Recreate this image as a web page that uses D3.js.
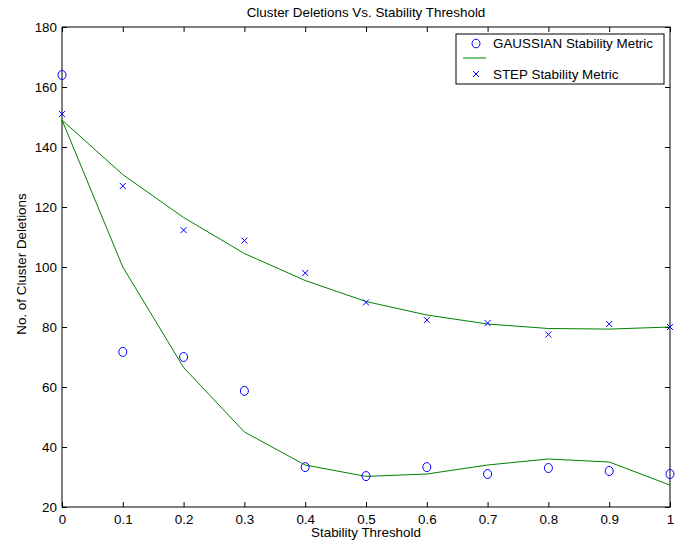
<!DOCTYPE html>
<html lang="en">
<meta charset="utf-8">
<title>Cluster Deletions Vs. Stability Threshold</title>
<style>
	body { margin: 0; background: #fff; font-family: "Liberation Sans", Arial, sans-serif; }
	.axis text { font-size: 13.4px; fill: #000; font-family: "Liberation Sans", Arial, sans-serif; }
	.axis path { display: none; }
	.axis line { stroke: #000; }
	.label { font-size: 13.4px; fill: #000; }
</style>
<body>
<script src="https://cdn.jsdelivr.net/npm/d3@7"></script>
<svg class="chart"></svg>
<script>
	// data
	var thresholds = [0, 0.1, 0.2, 0.3, 0.4, 0.5, 0.6, 0.7, 0.8, 0.9, 1.0];
	var gaussianPts = [164, 71.7, 70, 58.7, 33.3, 30.3, 33.3, 31, 33, 32, 31];
	var gaussianFit = [149, 100, 66.5, 45, 34, 30.2, 31, 34, 36, 35, 27.3];
	var stepPts = [151, 127, 112.3, 108.8, 98, 88.2, 82.3, 81.3, 77.5, 81, 80];
	var stepFit = [149, 130.8, 116.5, 104.5, 95.5, 88.5, 84, 81, 79.5, 79.3, 80];
	var xTicks = [0, 0.1, 0.2, 0.3, 0.4, 0.5, 0.6, 0.7, 0.8, 0.9, 1];
	var yTicks = [20, 40, 60, 80, 100, 120, 140, 160, 180];

	var margin = {top: 27, right: 11, bottom: 35, left: 62},
	    width = 681 - margin.left - margin.right,
	    height = 542 - margin.top - margin.bottom;

	var svg = d3.select(".chart")
	    .attr("width", 681)
	    .attr("height", 542)
	  .append("g")
	    .attr("transform", "translate(" + margin.left + "," + margin.top + ")");

	var x = d3.scaleLinear().domain([0, 1]).range([0, width]);
	var y = d3.scaleLinear().domain([20, 180]).range([height, 0]);

	var fmt = function(d) { return d === 0 ? "0" : d === 1 ? "1" : d3.format(".1f")(d); };

	// ticks, inward on all four sides
	svg.append("g").attr("class", "axis")
	    .attr("transform", "translate(0," + height + ")")
	    .call(d3.axisBottom(x).tickValues(xTicks).tickFormat(fmt).tickSizeInner(-5).tickPadding(7));
	svg.append("g").attr("class", "axis")
	    .call(d3.axisTop(x).tickValues(xTicks).tickFormat("").tickSizeInner(-5));
	svg.append("g").attr("class", "axis")
	    .call(d3.axisLeft(y).tickValues(yTicks).tickSizeInner(-5).tickPadding(5));
	svg.append("g").attr("class", "axis")
	    .attr("transform", "translate(" + width + ",0)")
	    .call(d3.axisRight(y).tickValues(yTicks).tickFormat("").tickSizeInner(-5));

	svg.append("rect")
	    .attr("width", width).attr("height", height)
	    .attr("fill", "none").attr("stroke", "#000").attr("stroke-width", 1);

	var line = d3.line()
	    .x(function(d, i) { return x(thresholds[i]); })
	    .y(function(d) { return y(d); });

	[gaussianFit, stepFit].forEach(function(s) {
		svg.append("path").datum(s)
		    .attr("fill", "none").attr("stroke", "#008000").attr("stroke-width", 1)
		    .attr("d", line);
	});

	svg.selectAll(".gpt").data(gaussianPts).enter().append("ellipse")
	    .attr("class", "gpt")
	    .attr("cx", function(d, i) { return x(thresholds[i]); })
	    .attr("cy", function(d) { return y(d); })
	    .attr("rx", 4).attr("ry", 4.5)
	    .attr("fill", "none").attr("stroke", "#0000ff").attr("stroke-width", 1);

	var cross = function(g, cx, cy) {
		var s = 3;
		g.append("path")
		    .attr("d", "M" + (cx - s) + "," + (cy - s) + "L" + (cx + s) + "," + (cy + s) +
		               "M" + (cx - s) + "," + (cy + s) + "L" + (cx + s) + "," + (cy - s))
		    .attr("stroke", "#0000ff").attr("stroke-width", 1);
	};
	stepPts.forEach(function(d, i) { cross(svg, x(thresholds[i]), y(d)); });

	// legend
	var lg = svg.append("g").attr("transform", "translate(" + (456 - margin.left) + "," + (34 - margin.top) + ")");
	lg.append("rect").attr("width", 208).attr("height", 50)
	    .attr("fill", "#fff").attr("stroke", "#000").attr("stroke-width", 1);
	lg.append("ellipse").attr("cx", 20).attr("cy", 9.5).attr("rx", 4).attr("ry", 4.3)
	    .attr("fill", "none").attr("stroke", "#0000ff");
	lg.append("line").attr("x1", 7).attr("x2", 30).attr("y1", 24).attr("y2", 24)
	    .attr("stroke", "#4caf50").attr("stroke-width", 1.5);
	cross(lg, 20, 40);
	lg.append("text").attr("class", "label").attr("x", 37).attr("y", 14).text("GAUSSIAN Stability Metric");
	lg.append("text").attr("class", "label").attr("x", 37).attr("y", 45).text("STEP Stability Metric");

	// labels
	svg.append("text").attr("class", "label")
	    .attr("text-anchor", "middle")
	    .attr("x", width / 2).attr("y", -10)
	    .text("Cluster Deletions Vs. Stability Threshold");
	svg.append("text").attr("class", "label")
	    .attr("text-anchor", "middle")
	    .attr("x", width / 2).attr("y", height + 30)
	    .text("Stability Threshold");
	svg.append("text").attr("class", "label")
	    .attr("text-anchor", "middle")
	    .attr("transform", "translate(" + (-36) + "," + (height / 2 - 3) + ") rotate(-90)")
	    .text("No. of Cluster Deletions");
</script>
</body>
</html>
